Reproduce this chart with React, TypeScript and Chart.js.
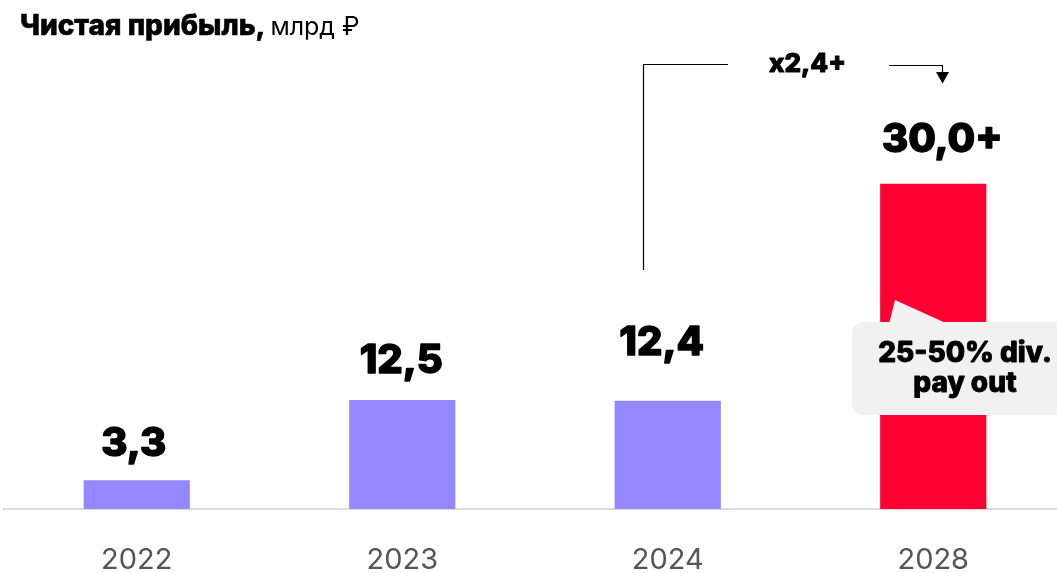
import React, { useEffect, useRef } from "react";
import { Chart, registerables } from "chart.js";

Chart.register(...registerables);

// ---- data ----
const years = ["2022", "2023", "2024", "2028"];
// bar heights as drawn (the 2028 target bar is drawn taller than scale in the design)
const barValues = [3.3, 12.5, 12.4, 37.3];
const valueLabels = ["3,3", "12,5", "12,4", "30,0+"];
const barColors = ["#9388ff", "#9388ff", "#9388ff", "#ff0033"];
const titleBold = "Чистая прибыль,";
const titleRegular = "млрд ₽";
const growthLabel = "x2,4+";
const calloutLines = ["25-50% div.", "pay out"];

// label placement tweaks (px) relative to bar top/centre
const labelOffsets = [
  { dx: -3, dy: 24 },
  { dx: -1, dy: 27 },
  { dx: -6, dy: 46 },
  { dx: 9, dy: 32 },
];

function heavyText(ctx: CanvasRenderingContext2D, t: string, x: number, y: number, sw: number) {
  ctx.fillText(t, x, y);
  if (sw > 0) {
    ctx.lineWidth = sw;
    ctx.lineJoin = "round";
    ctx.strokeStyle = ctx.fillStyle as string;
    ctx.strokeText(t, x, y);
  }
}

const overlayPlugin = {
  id: "overlay",
  afterDatasetsDraw(chart: any) {
    const ctx: CanvasRenderingContext2D = chart.ctx;
    const meta = chart.getDatasetMeta(0);
    ctx.save();

    // title
    ctx.fillStyle = "#000";
    ctx.textAlign = "left";
    ctx.textBaseline = "alphabetic";
    ctx.font = "800 28px Inter";
    heavyText(ctx, titleBold, 20, 35, 0.6);
    const w = ctx.measureText(titleBold).width;
    ctx.font = "400 25px Inter";
    ctx.fillText(titleRegular, 20 + w + 5, 35);

    // value labels
    ctx.font = "800 40px Inter";
    ctx.textAlign = "center";
    meta.data.forEach((bar: any, i: number) => {
      const o = labelOffsets[i];
      heavyText(ctx, valueLabels[i], bar.x + o.dx, bar.y - o.dy, 1.4);
    });

    // growth bracket
    const b24 = meta.data[2];
    const b28 = meta.data[3];
    const lx = Math.round(b24.x - 24.5) + 0.5;
    const ax = Math.round(b28.x + 9) + 0.5;
    const ly = 64.5;
    ctx.strokeStyle = "#000";
    ctx.lineWidth = 1.2;
    ctx.beginPath();
    ctx.moveTo(lx, 270);
    ctx.lineTo(lx, ly);
    ctx.lineTo(728, ly);
    ctx.stroke();
    ctx.beginPath();
    ctx.moveTo(889, ly + 1);
    ctx.lineTo(ax, ly + 1);
    ctx.lineTo(ax, 73);
    ctx.stroke();
    ctx.beginPath();
    ctx.moveTo(ax - 6.5, 72);
    ctx.lineTo(ax + 6.5, 72);
    ctx.lineTo(ax, 83.5);
    ctx.closePath();
    ctx.fillStyle = "#000";
    ctx.fill();

    ctx.font = "800 26px Inter";
    ctx.textAlign = "center";
    heavyText(ctx, growthLabel, 807.5, 72, 1);

    // callout
    ctx.fillStyle = "#f1f1f1";
    ctx.beginPath();
    (ctx as any).roundRect(852, 322, 240, 93, 12);
    ctx.fill();
    ctx.beginPath();
    ctx.moveTo(889, 324);
    ctx.lineTo(895, 300);
    ctx.lineTo(948, 324);
    ctx.closePath();
    ctx.fill();

    ctx.fillStyle = "#000";
    ctx.font = "800 28px Inter";
    ctx.textAlign = "center";
    heavyText(ctx, calloutLines[0], 965, 362, 0.9);
    heavyText(ctx, calloutLines[1], 965, 392, 0.9);

    ctx.restore();
  },
};

export default function App() {
  const ref = useRef<HTMLCanvasElement | null>(null);

  useEffect(() => {
    if (!ref.current) return;
    const chart = new Chart(ref.current, {
      type: "bar",
      data: {
        labels: years,
        datasets: [
          {
            data: barValues,
            backgroundColor: barColors,
            borderWidth: 0,
            categoryPercentage: 0.4,
            barPercentage: 1,
          },
        ],
      },
      options: {
        responsive: false,
        animation: false,
        devicePixelRatio: 1,
        layout: { padding: { top: 73, left: 4, right: 14, bottom: 0 } },
        plugins: {
          legend: { display: false },
          tooltip: { enabled: false },
        },
        scales: {
          y: { display: false, min: 0, max: 50 },
          x: {
            grid: { display: false },
            border: { display: true, color: "#dcdcdc", width: 2 },
            ticks: {
              color: "#555",
              font: { family: "Inter", size: 29, weight: "400" },
              padding: 26,
            },
            afterFit: (scale: any) => {
              scale.height = 64;
            },
          },
        },
      },
      plugins: [overlayPlugin],
    } as any);
    return () => chart.destroy();
  }, []);

  return (
    <div
      style={{
        position: "fixed",
        left: 0,
        top: 0,
        width: 1057,
        height: 573,
        overflow: "hidden",
        background: "#fff",
      }}
    >
      <canvas ref={ref} width={1080} height={573} style={{ display: "block" }} />
    </div>
  );
}
